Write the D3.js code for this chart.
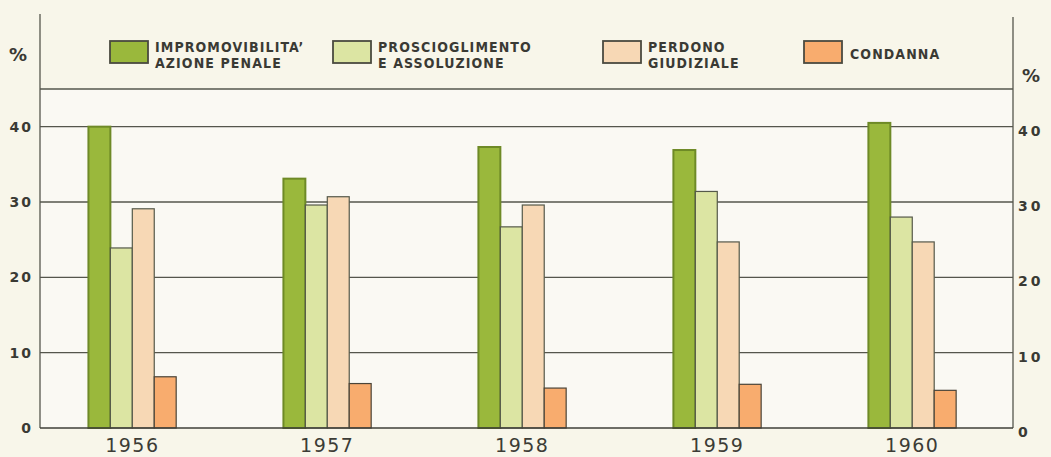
<!DOCTYPE html>
<html>
<head>
<meta charset="utf-8">
<script src="https://cdn.jsdelivr.net/npm/d3@7/dist/d3.min.js"></script>
<style>
body { margin: 0; background: #f8f6ea; }
svg { display: block; }
</style>
</head>
<body>
<svg width="1051" height="457"></svg>
<script>
// data
var years = ["1956", "1957", "1958", "1959", "1960"];
var seriesLabels = [
  ["IMPROMOVIBILITA\u2019", "AZIONE PENALE"],
  ["PROSCIOGLIMENTO", "E ASSOLUZIONE"],
  ["PERDONO", "GIUDIZIALE"],
  ["CONDANNA"]
];
var impromovibilita = [40.0, 33.1, 37.3, 36.9, 40.5];
var proscioglimento = [23.9, 29.6, 26.7, 31.4, 28.0];
var perdono = [29.1, 30.7, 29.6, 24.7, 24.7];
var condanna = [6.8, 5.9, 5.3, 5.8, 5.0];
var yTicks = [0, 10, 20, 30, 40];
var gridLevels = [10, 20, 30, 40, 45];

var seriesValues = [impromovibilita, proscioglimento, perdono, condanna];
var fills = ["#9ab83c", "#dce5a3", "#f7d8b5", "#f8ac6e"];
var strokes = ["#6e8a26", "#55594a", "#55594a", "#4a4438"];
var legendX = [110, 333, 603, 804];

var svg = d3.select("svg");
var left = 40, right = 1013, bottom = 428;

var y = d3.scaleLinear().domain([0, 45]).range([bottom, 89]);
var x = d3.scaleBand().domain(years).range([left, right])
    .paddingInner(0.55).paddingOuter(0.27).align(0.46);
var xs = d3.scaleBand().domain(d3.range(seriesValues.length)).range([0, x.bandwidth()]);

// plot fill
svg.append("rect")
    .attr("x", left).attr("y", y(45))
    .attr("width", right - left).attr("height", y(0) - y(45))
    .attr("fill", "#faf9f3");

// grid lines
svg.selectAll(".grid")
    .data(gridLevels)
    .enter().append("line")
    .attr("x1", left).attr("x2", right)
    .attr("y1", function(d) { return y(d); })
    .attr("y2", function(d) { return y(d); })
    .attr("stroke", "#55564c").attr("stroke-width", 1.3);

// axes lines
svg.append("line").attr("x1", left).attr("x2", left).attr("y1", 14).attr("y2", bottom)
    .attr("stroke", "#55564c").attr("stroke-width", 1.3);
svg.append("line").attr("x1", right).attr("x2", right).attr("y1", 17).attr("y2", bottom)
    .attr("stroke", "#55564c").attr("stroke-width", 1.3);

// bars
var groups = svg.selectAll(".year")
    .data(years)
    .enter().append("g")
    .attr("transform", function(d) { return "translate(" + x(d) + ",0)"; });

groups.selectAll("rect")
    .data(function(d, i) {
      return seriesValues.map(function(s, k) { return {k: k, v: s[i]}; });
    })
    .enter().append("rect")
    .attr("x", function(d) { return xs(d.k); })
    .attr("y", function(d) { return y(d.v); })
    .attr("width", xs.bandwidth())
    .attr("height", function(d) { return y(0) - y(d.v); })
    .attr("fill", function(d) { return fills[d.k]; })
    .attr("stroke", function(d) { return strokes[d.k]; })
    .attr("stroke-width", function(d) { return d.k == 0 ? 2 : 1.2; });

// baseline
svg.append("line").attr("x1", left).attr("x2", right).attr("y1", y(0)).attr("y2", y(0))
    .attr("stroke", "#3f3f38").attr("stroke-width", 1.6);

// year labels
svg.selectAll(".yr")
    .data(years)
    .enter().append("text")
    .attr("x", function(d) { return x(d) + x.bandwidth() / 2; })
    .attr("y", 452)
    .attr("text-anchor", "middle")
    .attr("font-family", "DejaVu Sans")
    .attr("font-size", 19)
    .attr("letter-spacing", 1.5)
    .attr("fill", "#3c3c36")
    .text(function(d) { return d; });

// tick labels, both sides
svg.selectAll(".tl")
    .data(yTicks)
    .enter().append("text")
    .attr("x", 33)
    .attr("y", function(d) { return y(d) + 5; })
    .attr("text-anchor", "end")
    .attr("font-family", "DejaVu Sans")
    .attr("font-weight", "bold")
    .attr("font-size", 14)
    .attr("letter-spacing", 2)
    .attr("fill", "#3a3a34")
    .text(function(d) { return d; });

svg.selectAll(".tr")
    .data(yTicks)
    .enter().append("text")
    .attr("x", 1018)
    .attr("y", function(d) { return y(d) + 9; })
    .attr("font-family", "DejaVu Sans")
    .attr("font-weight", "bold")
    .attr("font-size", 14)
    .attr("letter-spacing", 3)
    .attr("fill", "#3a3a34")
    .text(function(d) { return d; });

svg.append("text").attr("x", 9).attr("y", 61)
    .attr("font-family", "DejaVu Sans").attr("font-weight", "bold").attr("font-size", 18)
    .attr("fill", "#3a3a34").text("%");
svg.append("text").attr("x", 1022).attr("y", 82)
    .attr("font-family", "DejaVu Sans").attr("font-weight", "bold").attr("font-size", 18)
    .attr("fill", "#3a3a34").text("%");

// legend
var legend = svg.selectAll(".leg")
    .data(seriesLabels)
    .enter().append("g")
    .attr("transform", function(d, i) { return "translate(" + legendX[i] + ",41)"; });

legend.append("rect")
    .attr("width", 38).attr("height", 22)
    .attr("fill", function(d, i) { return fills[i]; })
    .attr("stroke", "#4a4a40").attr("stroke-width", 1.8);

legend.each(function(d) {
  var t = d3.select(this).append("text")
      .attr("font-family", "DejaVu Sans Condensed, DejaVu Sans")
      .attr("font-stretch", "condensed")
      .attr("font-weight", "bold")
      .attr("font-size", 14)
      .attr("letter-spacing", 1.1)
      .attr("fill", "#3a3a34");
  if (d.length == 1) {
    t.append("tspan").attr("x", 46).attr("y", 18).text(d[0]);
  } else {
    d.forEach(function(line, j) {
      t.append("tspan").attr("x", 45).attr("y", 11 + j * 16).text(line);
    });
  }
});
</script>
</body>
</html>
